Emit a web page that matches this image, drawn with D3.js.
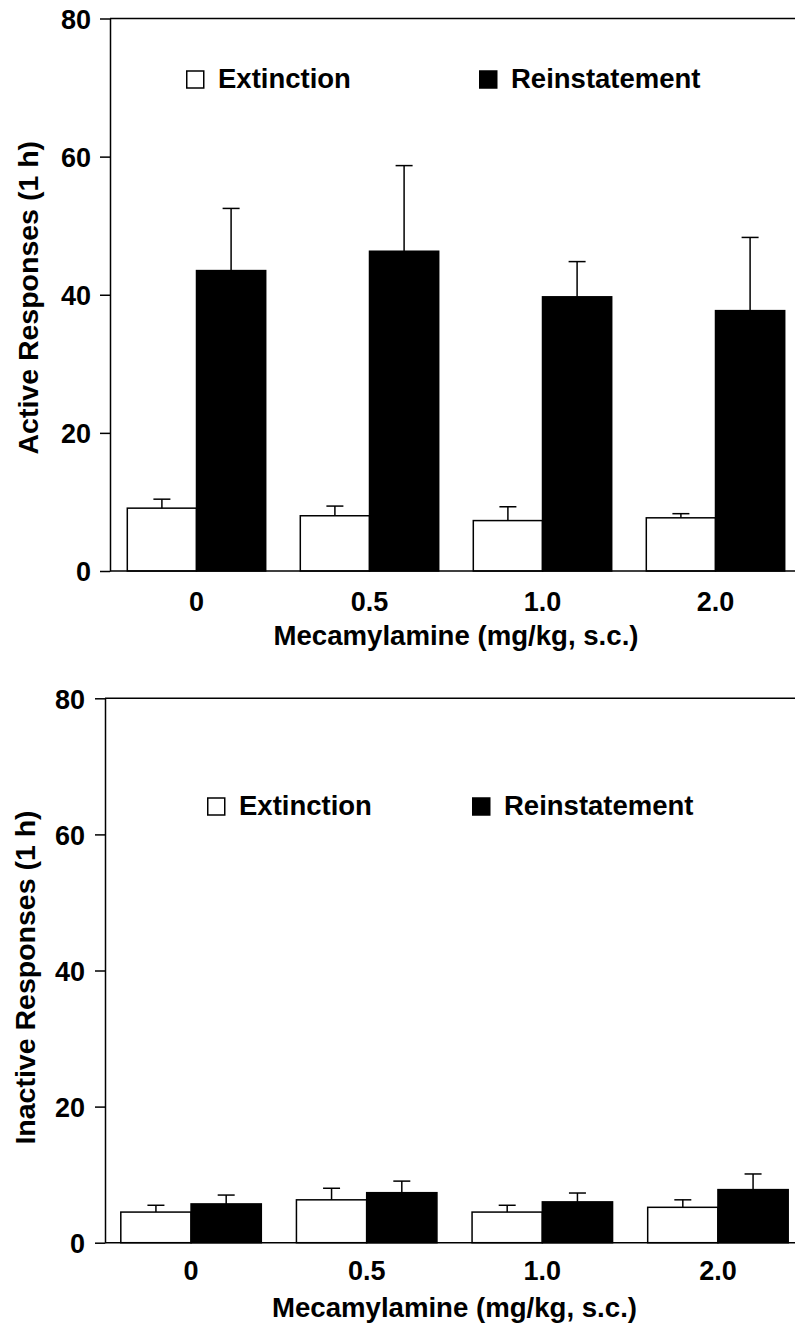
<!DOCTYPE html>
<html>
<head>
<meta charset="utf-8">
<script src="https://cdn.jsdelivr.net/npm/d3@7"></script>
<style>
  body { margin: 0; background: #fff; }
  svg text { font-family: "Liberation Sans", Arial, Helvetica, sans-serif; font-weight: bold; fill: #000; }
</style>
</head>
<body>
<svg id="chart"></svg>
<script>
(function () {
  'use strict';

  // doses on the x axis
  var categories = ['0', '0.5', '1.0', '2.0'];
  var seriesNames = ['Extinction', 'Reinstatement'];
  var yTicks = [0, 20, 40, 60, 80];

  // active lever, means and SEM
  var activeExtinction = [9.1, 8.0, 7.3, 7.7];
  var activeExtinctionSem = [1.3, 1.4, 2.0, 0.6];
  var activeReinstatement = [43.5, 46.3, 39.7, 37.7];
  var activeReinstatementSem = [9.0, 12.4, 5.1, 10.6];

  // inactive lever, means and SEM
  var inactiveExtinction = [4.5, 6.3, 4.5, 5.2];
  var inactiveExtinctionSem = [1.0, 1.7, 1.0, 1.1];
  var inactiveReinstatement = [5.7, 7.35, 6.0, 7.8];
  var inactiveReinstatementSem = [1.3, 1.7, 1.3, 2.3];

  var width = 795;
  var height = 1325;

  var svg = d3.select('#chart')
    .attr('width', width)
    .attr('height', height);

  var panels = [
    {
      yTitle: 'Active Responses (1 h)',
      values: [activeExtinction, activeReinstatement],
      sems: [activeExtinctionSem, activeReinstatementSem],
      left: 110, top: 18.5, bottom: 571, span: 692, paddingOuter: 0.1,
      tickPadding: 9, tickLabelY: 611, titleY: 645, yTitleX: 38, yTitleShift: 3,
      legendY: 88, legendX: [186, 479]
    },
    {
      yTitle: 'Inactive Responses (1 h)',
      values: [inactiveExtinction, inactiveReinstatement],
      sems: [inactiveExtinctionSem, inactiveReinstatementSem],
      left: 105, top: 698.3, bottom: 1242.7, span: 699, paddingOuter: 0.09,
      tickPadding: 10, tickLabelY: 1280, titleY: 1316.7, yTitleX: 35, yTitleShift: 7,
      legendY: 815, legendX: [207, 472]
    }
  ];

  var fills = ['#fff', '#000'];

  panels.forEach(function (p) {
    var g = svg.append('g');

    var x = d3.scaleBand()
      .domain(categories)
      .range([p.left, p.left + p.span])
      .paddingInner(0.2)
      .paddingOuter(p.paddingOuter);
    var xSub = d3.scaleBand()
      .domain(seriesNames)
      .range([0, x.bandwidth()]);
    var y = d3.scaleLinear()
      .domain([0, 80])
      .range([p.bottom, p.top]);

    // bars
    var rows = [];
    categories.forEach(function (c, i) {
      seriesNames.forEach(function (s, j) {
        rows.push({cat: c, series: s, k: j, value: p.values[j][i], sem: p.sems[j][i]});
      });
    });

    g.selectAll('.bar')
      .data(rows)
      .enter()
      .append('rect')
      .attr('class', 'bar')
      .attr('x', function (d) { return x(d.cat) + xSub(d.series); })
      .attr('y', function (d) { return y(d.value); })
      .attr('width', xSub.bandwidth())
      .attr('height', function (d) { return y(0) - y(d.value); })
      .style('fill', function (d) { return fills[d.k]; })
      .style('stroke', '#000')
      .style('stroke-width', 1.5);

    // error bars (upper only)
    var err = g.selectAll('.err')
      .data(rows)
      .enter()
      .append('g')
      .attr('class', 'err')
      .style('stroke', '#000')
      .style('stroke-width', 1.5);
    err.append('line')
      .attr('x1', function (d) { return x(d.cat) + xSub(d.series) + xSub.bandwidth() / 2; })
      .attr('x2', function (d) { return x(d.cat) + xSub(d.series) + xSub.bandwidth() / 2; })
      .attr('y1', function (d) { return y(d.value); })
      .attr('y2', function (d) { return y(d.value + d.sem); });
    err.append('line')
      .attr('x1', function (d) { return x(d.cat) + xSub(d.series) + xSub.bandwidth() / 2 - 8.5; })
      .attr('x2', function (d) { return x(d.cat) + xSub(d.series) + xSub.bandwidth() / 2 + 8.5; })
      .attr('y1', function (d) { return y(d.value + d.sem); })
      .attr('y2', function (d) { return y(d.value + d.sem); });

    // frame: top and bottom lines run to the page edge
    g.append('line')
      .attr('x1', p.left).attr('x2', width)
      .attr('y1', y(80)).attr('y2', y(80))
      .style('stroke', '#000').style('stroke-width', 1.5);
    g.append('line')
      .attr('x1', p.left).attr('x2', width)
      .attr('y1', y(0)).attr('y2', y(0))
      .style('stroke', '#000').style('stroke-width', 1.5);

    // y axis
    var yAxis = g.append('g')
      .attr('transform', 'translate(' + p.left + ',0)')
      .call(d3.axisLeft(y)
        .tickValues(yTicks)
        .tickSize(10)
        .tickSizeOuter(0)
        .tickPadding(p.tickPadding));
    yAxis.selectAll('path, line').style('stroke', '#000').style('stroke-width', 1.5);
    yAxis.selectAll('text')
      .style('font-size', '27px')
      .attr('dy', '0.36em');

    // x tick labels
    g.selectAll('.xlab')
      .data(categories)
      .enter()
      .append('text')
      .attr('class', 'xlab')
      .attr('x', function (d) { return x(d) + x.bandwidth() / 2; })
      .attr('y', p.tickLabelY)
      .attr('text-anchor', 'middle')
      .style('font-size', '27px')
      .text(function (d) { return d; });

    g.append('text')
      .attr('x', (p.left + p.left + p.span) / 2)
      .attr('y', p.titleY)
      .attr('text-anchor', 'middle')
      .style('font-size', '27.6px')
      .text('Mecamylamine (mg/kg, s.c.)');

    g.append('text')
      .attr('transform', 'translate(' + p.yTitleX + ',' + ((p.top + p.bottom) / 2 + p.yTitleShift) + ') rotate(-90)')
      .attr('text-anchor', 'middle')
      .style('font-size', '28.5px')
      .text(p.yTitle);

    // legend
    var legend = g.selectAll('.legend')
      .data(seriesNames)
      .enter()
      .append('g')
      .attr('class', 'legend')
      .attr('transform', function (d, i) { return 'translate(' + p.legendX[i] + ',' + p.legendY + ')'; });
    legend.append('rect')
      .attr('x', 0.75)
      .attr('y', -17)
      .attr('width', 17)
      .attr('height', 17)
      .style('fill', function (d, i) { return fills[i]; })
      .style('stroke', '#000')
      .style('stroke-width', 1.5);
    legend.append('text')
      .attr('x', 32)
      .attr('y', 0)
      .style('font-size', '27.5px')
      .text(function (d) { return d; });
  });
}());
</script>
</body>
</html>
